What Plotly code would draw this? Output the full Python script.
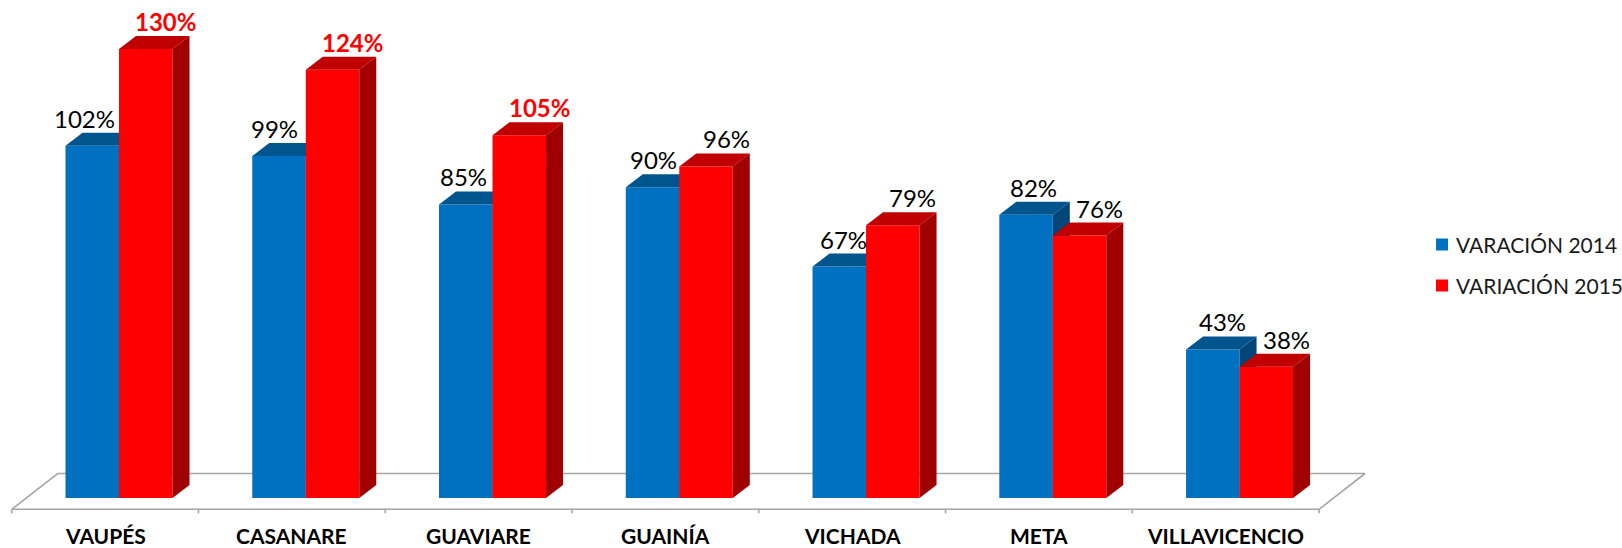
import plotly.graph_objects as go

# ---------------- data ----------------
categories = ["VAUPÉS", "CASANARE", "GUAVIARE", "GUAINÍA", "VICHADA", "META", "VILLAVICENCIO"]
var_2014 = [102, 99, 85, 90, 67, 82, 43]
var_2015 = [130, 124, 105, 96, 79, 76, 38]
series_names = ["VARACIÓN 2014", "VARIACIÓN 2015"]

# ---------------- style / geometry constants ----------------
W, H = 1622, 548
CAT_PX = 186.76            # pixels per category
VAL_PX = 3.454             # pixels per percentage point
X0_PX = 105.1              # pixel of first category centre (front edge)
BASE_PX = 498.0            # pixel of value 0

BAR_W = 53.5 / CAT_PX      # width of one bar
PAIR_OFF = 13.9 / CAT_PX   # shift of bar pair (bars sit in middle of floor depth)
DDX = 17.0 / CAT_PX        # bar depth, x
DDY = 13.0 / VAL_PX        # bar depth, y
FLOOR_FRONT = -(509.3 - BASE_PX) / VAL_PX
FLOOR_BACK = (BASE_PX - 473.5) / VAL_PX
FLOOR_DX = 46.0 / CAT_PX
TICK_LEN = 4.0 / VAL_PX

# legend placement (pixels)
LEG_SWATCH_X = 1436
LEG_TEXT_X = 1454
LEG_ROW_Y = [244.5, 285.5]
LEG_SWATCH = 12

colors = {
    "blue": {"front": "#0070C0", "top": "#00558F", "side": "#004778", "label": "#000000"},
    "red": {"front": "#FF0000", "top": "#C00000", "side": "#A00000", "label": "#FF0000"},
}
FONT = "Lato, 'Open Sans', sans-serif"

fig = go.Figure()

# ---------------- floor (axis decoration) ----------------
n = len(categories)
xl_f, xr_f = -0.5, n - 0.5
fig.add_trace(go.Scatter(
    x=[xl_f, xr_f, xr_f + FLOOR_DX, xl_f + FLOOR_DX, xl_f],
    y=[FLOOR_FRONT, FLOOR_FRONT, FLOOR_BACK, FLOOR_BACK, FLOOR_FRONT],
    mode="lines", line=dict(color="#A6A6A6", width=1.6),
    hoverinfo="skip", showlegend=False))
tx, ty = [], []
for k in range(n + 1):
    tx += [xl_f + k, xl_f + k, None]
    ty += [FLOOR_FRONT, FLOOR_FRONT - TICK_LEN, None]
fig.add_trace(go.Scatter(x=tx, y=ty, mode="lines",
                         line=dict(color="#A6A6A6", width=1.6),
                         hoverinfo="skip", showlegend=False))


def faces(values, left_offsets):
    front_x, front_y, top_x, top_y, side_x, side_y = [], [], [], [], [], []
    for i, v in enumerate(values):
        xl = i + left_offsets
        xr = xl + BAR_W
        front_x += [xl, xr, xr, xl, xl, None]
        front_y += [0, 0, v, v, 0, None]
        top_x += [xl, xr, xr + DDX, xl + DDX, xl, None]
        top_y += [v, v, v + DDY, v + DDY, v, None]
        side_x += [xr, xr + DDX, xr + DDX, xr, xr, None]
        side_y += [0, DDY, v + DDY, v, 0, None]
    return (front_x, front_y), (top_x, top_y), (side_x, side_y)


series = [
    (var_2014, "blue", PAIR_OFF - BAR_W, series_names[0]),
    (var_2015, "red", PAIR_OFF, series_names[1]),
]

for values, cname, off, sname in series:
    c = colors[cname]
    (fx, fy), (tpx, tpy), (sx, sy) = faces(values, off)
    for (xx, yy), key in [((fx, fy), "front"), ((tpx, tpy), "top"), ((sx, sy), "side")]:
        fig.add_trace(go.Scatter(
            x=xx, y=yy, mode="lines", fill="toself", name=sname,
            fillcolor=c[key], line=dict(width=0, color=c[key]),
            hoverinfo="skip", showlegend=False))

# ---------------- data labels ----------------
ann = []
for i, v in enumerate(var_2014):
    xc = i + PAIR_OFF - BAR_W / 2
    ann.append(dict(x=xc, y=v + DDY, text=f"{v}%", showarrow=False,
                    xanchor="center", yanchor="bottom",
                    xshift=-8 + 3 * i, yshift=-2,
                    font=dict(family=FONT, size=24, color=colors["blue"]["label"])))
for i, v in enumerate(var_2015):
    xc = i + PAIR_OFF + BAR_W / 2
    big = v >= 100
    ann.append(dict(x=xc, y=v + DDY, text=f"<b>{v}%</b>" if big else f"{v}%",
                    showarrow=False, xanchor="center", yanchor="bottom",
                    xshift=20, yshift=-2,
                    font=dict(family=FONT, size=24,
                              color=colors["red"]["label"] if big else "#000000")))

# category labels
for i, cat in enumerate(categories):
    ann.append(dict(x=i, y=-(535.5 - BASE_PX) / VAL_PX, text=f"<b>{cat}</b>",
                    showarrow=False, xanchor="center", yanchor="middle",
                    font=dict(family=FONT, size=21, color="#000000")))

# ---------------- legend (drawn manually for exact placement) ----------------
shapes = []
for (sname, cname), yc in zip([(series_names[0], "blue"), (series_names[1], "red")], LEG_ROW_Y):
    ann.append(dict(x=LEG_TEXT_X / W, y=1 - yc / H, xref="paper", yref="paper",
                    text=sname, showarrow=False, xanchor="left", yanchor="middle",
                    font=dict(family=FONT, size=21, color="#1A1A1A")))
    shapes.append(dict(type="rect", xref="paper", yref="paper",
                       x0=LEG_SWATCH_X / W, x1=(LEG_SWATCH_X + LEG_SWATCH) / W,
                       y0=1 - (yc + LEG_SWATCH / 2) / H, y1=1 - (yc - LEG_SWATCH / 2) / H,
                       fillcolor=colors[cname]["front"], line=dict(width=0)))

fig.update_layout(
    width=W, height=H, autosize=False,
    margin=dict(l=0, r=0, t=0, b=0, pad=0),
    paper_bgcolor="white", plot_bgcolor="white",
    xaxis=dict(range=[-X0_PX / CAT_PX, (W - X0_PX) / CAT_PX], visible=False, fixedrange=True),
    yaxis=dict(range=[-(H - BASE_PX) / VAL_PX, BASE_PX / VAL_PX], visible=False, fixedrange=True),
    annotations=ann,
    shapes=shapes,
    showlegend=False,
)

fig.write_html("out.html", config={"displayModeBar": False},
               post_script="document.body.style.margin='0';")
